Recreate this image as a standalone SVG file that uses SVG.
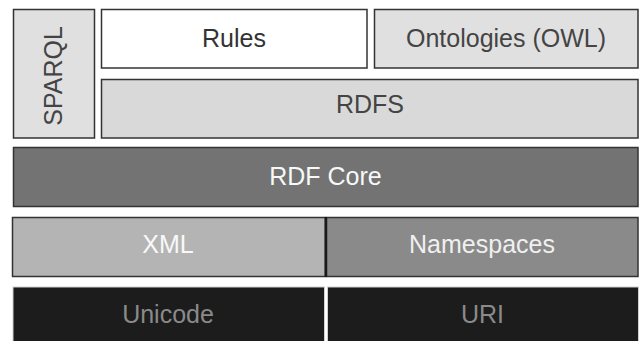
<svg xmlns="http://www.w3.org/2000/svg" width="639" height="341" viewBox="0 0 639 341">
<style>
text{font-family:"Liberation Sans",Arial,sans-serif;font-size:25px;text-anchor:middle}
.b{stroke:#333;stroke-width:1.5}
</style>
<rect width="639" height="341" fill="#fff"/>
<g id="sparql"><rect class="b" x="13.5" y="9.5" width="81" height="128.5" fill="#e0e0e0"/><text transform="translate(62 76) rotate(-90)" fill="#444">SPARQL</text></g>
<g id="rules"><rect class="b" x="101.5" y="9.5" width="265.5" height="58.5" fill="#fff"/><text x="234" y="47" fill="#333">Rules</text></g>
<g id="owl"><rect class="b" x="374.5" y="9.5" width="263.5" height="58.5" fill="#e0e0e0"/><text x="506" y="47" fill="#444">Ontologies (OWL)</text></g>
<g id="rdfs"><rect class="b" x="101.5" y="79.5" width="536.5" height="58.5" fill="#d9d9d9"/><text x="370" y="113" fill="#444">RDFS</text></g>
<g id="rdfcore"><rect class="b" x="13.5" y="147.5" width="624.5" height="59" fill="#737373"/><text x="325.5" y="185" fill="#f8f8f8">RDF Core</text></g>
<g id="xml"><rect class="b" x="12.5" y="217.5" width="313" height="59" fill="#b4b4b4"/><text x="168" y="253" fill="#f8f8f8">XML</text></g>
<g id="namespaces"><rect class="b" x="326.5" y="217.5" width="311.5" height="59" fill="#8a8a8a"/><line x1="325.8" y1="217" x2="325.8" y2="277" stroke="#1a1a1a" stroke-width="2.5"/><text x="482" y="253" fill="#f0f0f0">Namespaces</text></g>
<g id="unicode"><rect x="13" y="287" width="311.5" height="60" fill="#1c1c1c" stroke="#d0d0d0" stroke-width="1"/><text x="168" y="323" fill="#8a8a8a">Unicode</text></g>
<g id="uri"><rect x="327.5" y="287" width="311" height="60" fill="#1c1c1c" stroke="#d0d0d0" stroke-width="1"/><text x="482.5" y="323" fill="#8a8a8a">URI</text></g>
<g id="connectors"/>
</svg>
